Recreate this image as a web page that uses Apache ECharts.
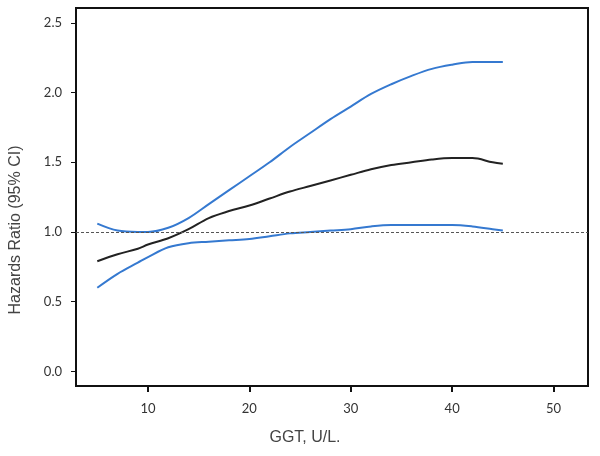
<!DOCTYPE html>
<html>
<head>
<meta charset="utf-8">
<script src="https://cdn.jsdelivr.net/npm/echarts@6/dist/echarts.min.js"></script>
<style>html,body{margin:0;padding:0;background:#fff;}#c{width:600px;height:456px;}</style>
</head>
<body>
<div id="c"></div>
<script>
const ggt = [5,7,9,10,12,14,16,18,20,22,24,26,28,30,32,34,36,38,40,42,44,45];
const hr = [0.79,0.84,0.88,0.91,0.955,1.02,1.10,1.15,1.19,1.24,1.29,1.33,1.37,1.41,1.45,1.48,1.50,1.52,1.53,1.53,1.50,1.49];
const upperCI = [1.06,1.01,1.00,1.00,1.03,1.10,1.20,1.30,1.40,1.50,1.61,1.71,1.81,1.90,1.99,2.06,2.12,2.17,2.20,2.22,2.22,2.22];
const lowerCI = [0.60,0.70,0.78,0.82,0.89,0.92,0.93,0.94,0.95,0.97,0.99,1.00,1.01,1.02,1.04,1.05,1.05,1.05,1.05,1.04,1.02,1.01];
const xTicks = [10,20,30,40,50];
const yTicks = [0,0.5,1,1.5,2,2.5];
const refLine = 1.0;
const xName = 'GGT, U/L.';
const yName = 'Hazards Ratio (95% CI)';

const pairs = arr => ggt.map((x,i)=>[x,arr[i]]);
const chart = echarts.init(document.getElementById('c'));
const labelFont = 'Lato, "Open Sans", sans-serif';
chart.setOption({
  animation:false,
  grid:{left:76,right:12,top:8,bottom:70,show:true,borderColor:'#111',borderWidth:2,backgroundColor:'transparent'},
  xAxis:{type:'value',min:2.9,max:53.4,
    axisLine:{show:true,onZero:false,lineStyle:{color:'#111',width:2}},
    axisTick:{show:true,length:6,customValues:xTicks,lineStyle:{color:'#111',width:2}},
    axisLabel:{customValues:xTicks,margin:16,color:'#333',fontSize:13,fontFamily:labelFont},
    splitLine:{show:false}},
  yAxis:{type:'value',min:-0.105,max:2.607,
    axisLine:{show:true,onZero:false,lineStyle:{color:'#111',width:2}},
    axisTick:{show:true,length:5,customValues:yTicks,lineStyle:{color:'#111',width:1}},
    axisLabel:{customValues:yTicks,margin:14,color:'#333',fontSize:13,fontFamily:labelFont,formatter:v=>v.toFixed(1)},
    splitLine:{show:false}},
  graphic:[
    {type:'text',x:305,y:438,style:{text:xName,align:'center',verticalAlign:'middle',fill:'#444',font:'16px "Liberation Sans", Arial, sans-serif'}},
    {type:'text',x:16,y:230,rotation:Math.PI/2,style:{text:yName,align:'center',verticalAlign:'middle',fill:'#444',font:'16px "Liberation Sans", Arial, sans-serif'}}
  ],
  series:[
    {type:'line',data:pairs(upperCI),smooth:0.35,showSymbol:false,lineStyle:{color:'#3579d0',width:2},z:3},
    {type:'line',data:pairs(lowerCI),smooth:0.35,showSymbol:false,lineStyle:{color:'#3579d0',width:2},z:3},
    {type:'line',data:pairs(hr),smooth:0.35,showSymbol:false,lineStyle:{color:'#222',width:2},z:4,
      markLine:{silent:true,symbol:'none',label:{show:false},lineStyle:{color:'#555',type:[3,2],width:1},data:[{yAxis:refLine}]}}
  ]
});
</script>
</body>
</html>
